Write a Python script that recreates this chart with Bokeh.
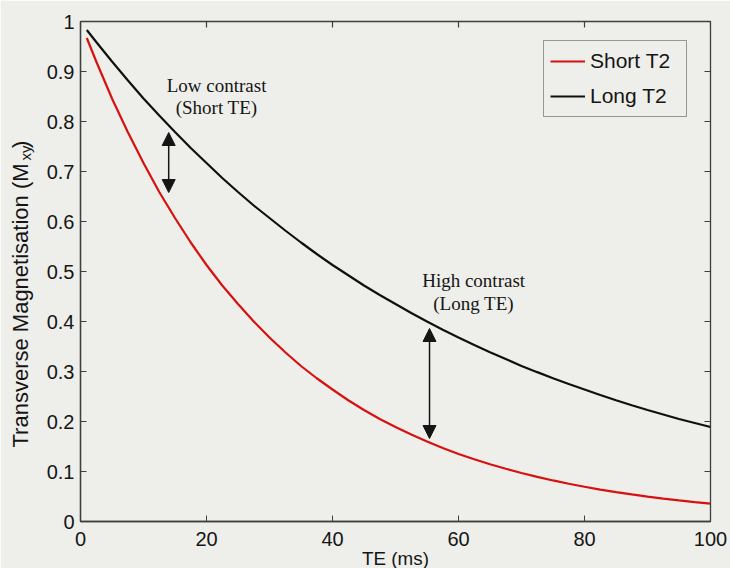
import math
from bokeh.plotting import figure
from bokeh.models import (Range1d, FixedTicker, Label, Arrow, NormalHead,
                          Legend, LegendItem)
from bokeh.embed import file_html
from bokeh.resources import INLINE

# ---- data ----
te_ms = [1, 2.5, 5, 7.5, 10, 12.5, 15, 17.5, 20, 22.5, 25, 27.5, 30, 32.5, 35, 37.5,
         40, 42.5, 45, 47.5, 50, 52.5, 55, 57.5, 60, 62.5, 65, 67.5, 70, 72.5, 75,
         77.5, 80, 82.5, 85, 87.5, 90, 92.5, 95, 97.5, 100]
short_t2 = [0.967, 0.920, 0.846, 0.779, 0.717, 0.659, 0.607, 0.558, 0.513, 0.472,
            0.435, 0.400, 0.368, 0.3385, 0.311, 0.2865, 0.264, 0.2425, 0.223, 0.205,
            0.189, 0.174, 0.160, 0.147, 0.135, 0.1245, 0.1146, 0.1054, 0.0970,
            0.0892, 0.0821, 0.0755, 0.0695, 0.0639, 0.0588, 0.0541, 0.0498, 0.0458,
            0.0421, 0.0388, 0.0357]
long_t2 = [0.983, 0.959, 0.920, 0.8825, 0.846, 0.812, 0.779, 0.747, 0.717, 0.687,
           0.659, 0.632, 0.607, 0.582, 0.558, 0.535, 0.513, 0.4925, 0.472, 0.453,
           0.435, 0.417, 0.400, 0.3835, 0.368, 0.353, 0.3385, 0.325, 0.311, 0.2987,
           0.2865, 0.275, 0.264, 0.253, 0.2425, 0.2326, 0.223, 0.214, 0.205, 0.197,
           0.189]
series_names = ["Short T2", "Long T2"]

x_ticks = [0, 20, 40, 60, 80, 100]
x_tick_labels = ["0", "20", "40", "60", "80", "100"]
y_ticks = [0, 0.1, 0.2, 0.3, 0.4, 0.5, 0.6, 0.7, 0.8, 0.9, 1]
y_tick_labels = ["0", "0.1", "0.2", "0.3", "0.4", "0.5", "0.6", "0.7", "0.8", "0.9", "1"]
x_title = "TE (ms)"
y_title = "Transverse Magnetisation (M\u2002\u2009)"
y_title_sub = "xy"

# annotations (arrows between curves and their notes)
low_arrow = dict(x=14, y0=0.658, y1=0.778)
high_arrow = dict(x=55.4, y0=0.166, y1=0.386)
low_text = ["Low contrast", "(Short TE)"]
high_text = ["High contrast", "(Long TE)"]

BG = "#eeefea"
INK = "#151515"
FRAME = "#3c403c"
SANS = "Liberation Sans"
SERIF = "Liberation Serif"

p = figure(width=730, height=568, x_range=Range1d(0, 100), y_range=Range1d(0, 1),
           output_backend="svg", toolbar_location=None,
           min_border_left=80, min_border_right=20, min_border_top=21, min_border_bottom=47)
p.background_fill_color = BG
p.border_fill_color = BG
p.outline_line_color = FRAME
p.outline_line_width = 1.3
p.grid.visible = False

for ax in (p.xaxis[0], p.yaxis[0]):
    ax.axis_line_color = FRAME
    ax.axis_line_width = 1.3
    ax.major_tick_line_color = FRAME
    ax.major_tick_in = 6
    ax.major_tick_out = 0
    ax.minor_tick_in = 0
    ax.minor_tick_out = 0
    ax.major_label_text_font = SANS
    ax.major_label_text_font_size = "20px"
    ax.major_label_text_color = INK
    ax.axis_label = None

p.xaxis.ticker = FixedTicker(ticks=x_ticks)
p.xaxis.major_label_overrides = {t: s for t, s in zip(x_ticks, x_tick_labels)}
p.xaxis.major_label_standoff = 10

p.yaxis.ticker = FixedTicker(ticks=y_ticks)
p.yaxis.major_label_overrides = {t: s for t, s in zip(y_ticks, y_tick_labels)}
p.yaxis.major_label_standoff = 6

# mirrored inward ticks on the top and right edges (box on), clipped to the frame
p.scatter(x_ticks, [p.y_range.end] * len(x_ticks), marker="dash", angle=math.pi / 2,
          size=12, line_color=FRAME, line_width=1.2)
p.scatter([p.x_range.end] * len(y_ticks), y_ticks, marker="dash",
          size=12, line_color=FRAME, line_width=1.2)

r_short = p.line(te_ms, short_t2, line_color="#d81010", line_width=2.2)
r_long = p.line(te_ms, long_t2, line_color="#101010", line_width=2.2)

legend = Legend(items=[LegendItem(label=series_names[0], renderers=[r_short]),
                       LegendItem(label=series_names[1], renderers=[r_long])],
                location=(463, 404), padding=6, spacing=7, glyph_width=35,
                glyph_height=28, label_height=28, label_width=90, label_standoff=5,
                label_text_font=SANS, label_text_font_size="21px", label_text_color=INK,
                border_line_color=FRAME, border_line_width=1.2,
                background_fill_color=BG, background_fill_alpha=1.0, margin=0)
p.add_layout(legend, "center")

# arrows
for a in (low_arrow, high_arrow):
    p.add_layout(Arrow(start=NormalHead(size=13, fill_color=INK, line_color=INK),
                       end=NormalHead(size=13, fill_color=INK, line_color=INK),
                       x_start=a["x"], y_start=a["y0"], x_end=a["x"], y_end=a["y1"],
                       line_color=INK, line_width=1.5))

for (txt, cx, ys) in ((low_text, 21.6, (0.872, 0.828)), (high_text, 62.4, (0.482, 0.436))):
    for t, yy in zip(txt, ys):
        p.add_layout(Label(x=cx, y=yy, text=t, text_align="center", text_baseline="middle",
                           text_font=SERIF, text_font_size="19px", text_color=INK))

# axis titles, placed in side panels (outside the frame) so they are not clipped;
# the panel each sits in only reserves room, the position comes from the scales
p.add_layout(Label(x=-9.52, y=0.148, text=y_title, angle=math.pi / 2, text_align="left",
                   text_baseline="middle", text_font=SANS, text_font_size="22px",
                   text_color=INK), "left")
p.add_layout(Label(x=-8.7, y=0.722, text=y_title_sub, angle=math.pi / 2, text_align="left",
                   text_baseline="middle", text_font=SANS, text_font_size="15px",
                   text_color=INK), "right")
p.add_layout(Label(x=50, y=-0.074, text=x_title, text_align="center",
                   text_baseline="middle", text_font=SANS, text_font_size="18.8px",
                   text_color=INK), "above")

open("out.html", "w").write(file_html(p, INLINE))
